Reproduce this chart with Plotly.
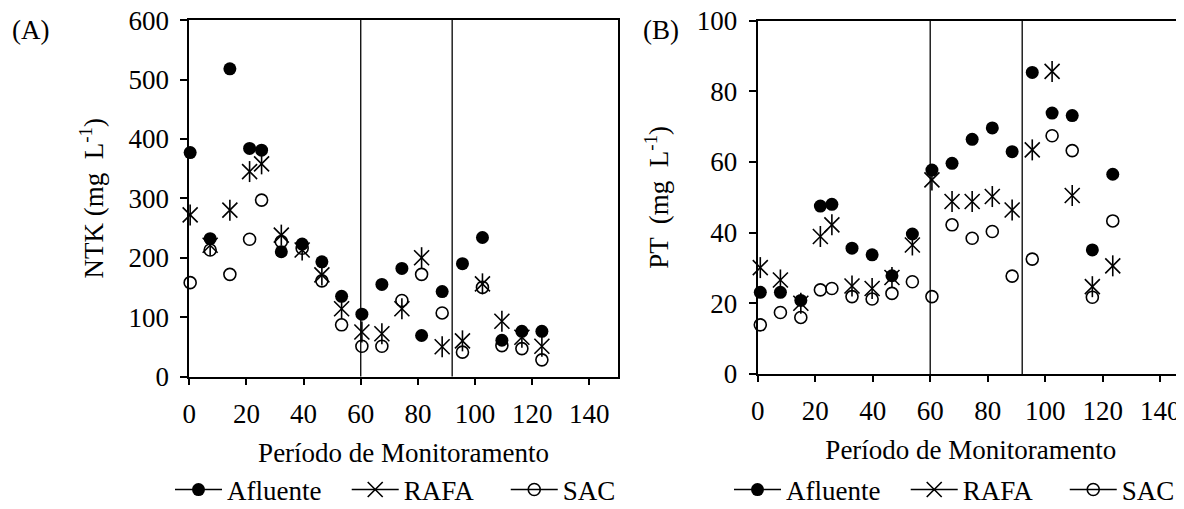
import plotly.graph_objects as go

# ---------------- data ----------------
dias_A = [0.3, 7.3, 14.2, 21.1, 25.3, 32.2, 39.5, 46.4, 53.3, 60.4, 67.4, 74.4,
          81.3, 88.5, 95.6, 102.6, 109.4, 116.4, 123.4]
ntk_afluente = [377, 232, 518, 384, 381, 210, 223, 193, 135, 105, 155, 182,
                69, 143, 190, 234, 61, 76, 76]
ntk_rafa = [272, 221, 280, 345, 358, 238, 213, 171, 114, 75, 72, 114,
            200, 50, 60, 156, 93, 66, 51]
ntk_sac = [158, 213, 172, 231, 297, 227, 216, 161, 87, 51, 51, 128,
           172, 107, 41, 150, 52, 47, 28]

dias_B = [0.9, 7.9, 15.0, 21.8, 25.8, 32.8, 39.8, 46.7, 53.8, 60.6, 67.6, 74.6,
          81.6, 88.5, 95.5, 102.4, 109.4, 116.4, 123.5]
pt_afluente = [23.1, 23.1, 20.8, 47.5, 48.0, 35.6, 33.7, 27.8, 39.6, 57.7, 59.6, 66.4,
               69.6, 62.9, 85.3, 73.8, 73.1, 35.1, 56.5]
pt_rafa = [30.1, 26.6, 20.0, 38.9, 42.2, 24.9, 24.2, 27.3, 36.5, 54.9, 48.8, 48.8,
           50.2, 46.4, 63.4, 85.6, 50.5, 24.7, 30.6]
pt_sac = [13.9, 17.4, 16.0, 23.8, 24.2, 21.9, 21.2, 22.8, 26.1, 21.9, 42.2, 38.4,
          40.3, 27.7, 32.5, 67.4, 63.2, 21.7, 43.3]

fases = [60, 92]
series_names = ["Afluente", "RAFA", "SAC"]
x_ticks = [0, 20, 40, 60, 80, 100, 120, 140]
y_ticks_A = [0, 100, 200, 300, 400, 500, 600]
y_ticks_B = [0, 20, 40, 60, 80, 100]

FONT = "Liberation Serif"
FS = 27
OFF = 8                      # default page (body) margin around the figure
W, H = 1184 - OFF, 509 - OFF
NB = "\u00a0"


def xp(px):
    return (px - OFF) / W


def yp(py):
    return 1 - (py - OFF) / H


def split(vals):
    # a gap after every value keeps the points unconnected,
    # while the legend still shows the line sample
    out = []
    for v in vals:
        out += [v, None]
    return out


fig = go.Figure()


def add_panel(xs, afl, rafa, sac, xa, ya, lg):
    common = dict(mode="lines+markers", cliponaxis=False, connectgaps=False,
                  xaxis=xa, yaxis=ya, legend=lg,
                  line=dict(color="black", width=1.6))
    X = split(xs)
    fig.add_trace(go.Scatter(x=X, y=split(sac), name=series_names[2], legendrank=3,
                             marker=dict(symbol="circle-open", size=12, color="black",
                                         line=dict(width=1.6, color="black")), **common))
    fig.add_trace(go.Scatter(x=X, y=split(rafa), name=series_names[1] + NB * 4, legendrank=2,
                             marker=dict(symbol="x-thin-open", size=15, color="black",
                                         line=dict(width=1.6, color="black")), **common))
    fig.add_trace(go.Scatter(x=X, y=split(rafa), name=series_names[1], showlegend=False,
                             marker=dict(symbol="line-ns-open", size=15, color="black",
                                         line=dict(width=1.6, color="black")), **common))
    fig.add_trace(go.Scatter(x=X, y=split(afl), name=series_names[0] + NB * 3, legendrank=1,
                             marker=dict(symbol="circle", size=13, color="black",
                                         line=dict(width=0)), **common))


add_panel(dias_A, ntk_afluente, ntk_rafa, ntk_sac, "x", "y", "legend")
add_panel(dias_B, pt_afluente, pt_rafa, pt_sac, "x2", "y2", "legend2")

# phase separation lines
shapes = []
for xa, ya in [("x", "y"), ("x2", "y2")]:
    for f in fases:
        shapes.append(dict(type="line", xref=xa, yref=ya + " domain", x0=f, x1=f,
                           y0=0, y1=1, line=dict(color="black", width=1.3)))

axis_common = dict(showgrid=False, zeroline=False, showline=True, linecolor="black",
                   linewidth=2, ticks="outside", tickcolor="black", tickwidth=1.5,
                   tickfont=dict(family=FONT, size=FS, color="black"),
                   ticklabeloverflow="allow", automargin=False)

fig.update_layout(
    width=W, height=H,
    margin=dict(l=0, r=0, t=0, b=0, autoexpand=False),
    paper_bgcolor="white", plot_bgcolor="white",
    font=dict(family=FONT, size=FS, color="black"),
    shapes=shapes,
    xaxis=dict(domain=[xp(189.3), xp(617.9)], range=[0, 150], tickvals=x_ticks,
               mirror=True, ticklen=6, ticklabelstandoff=6,
               title=dict(text="Período de Monitoramento", standoff=15,
                          font=dict(family=FONT, size=FS)),
               anchor="y", **axis_common),
    yaxis=dict(domain=[yp(376.5), yp(20.1)], range=[0, 600], tickvals=y_ticks_A,
               mirror=True, ticklen=7, ticklabelstandoff=6,
               title=dict(text="NTK (mg  L<sup>-1</sup>)", standoff=17,
                          font=dict(family=FONT, size=FS)),
               anchor="x", **axis_common),
    xaxis2=dict(domain=[xp(757.7), 1.0], range=[0, (1184 - 757.7) / 2.875], tickvals=x_ticks,
                mirror=True, ticklen=6, ticklabelstandoff=6,
                title=dict(text="Período de Monitoramento", standoff=15,
                           font=dict(family=FONT, size=FS)),
                anchor="y2", **axis_common),
    yaxis2=dict(domain=[yp(374), yp(20.5)], range=[0, 100], tickvals=y_ticks_B,
                mirror=False, ticklen=7, ticklabelstandoff=6,
                title=dict(text="PT  (mg  L<sup>-1</sup>)", standoff=20,
                           font=dict(family=FONT, size=FS)),
                anchor="x2", **axis_common),
    legend=dict(orientation="h", x=xp(170), y=yp(490), xanchor="left",
                yanchor="middle", bgcolor="rgba(0,0,0,0)", itemwidth=47,
                font=dict(family=FONT, size=FS, color="black")),
    legend2=dict(orientation="h", x=xp(729), y=yp(490), xanchor="left",
                 yanchor="middle", bgcolor="rgba(0,0,0,0)", itemwidth=47,
                 font=dict(family=FONT, size=FS, color="black")),
    annotations=[
        dict(text="(A)", x=xp(10), y=yp(30), xref="paper", yref="paper",
             xanchor="left", yanchor="middle", showarrow=False,
             font=dict(family=FONT, size=FS, color="black")),
        dict(text="(B)", x=xp(641), y=yp(30), xref="paper", yref="paper",
             xanchor="left", yanchor="middle", showarrow=False,
             font=dict(family=FONT, size=FS, color="black")),
    ],
)

fig.write_html("out.html")
